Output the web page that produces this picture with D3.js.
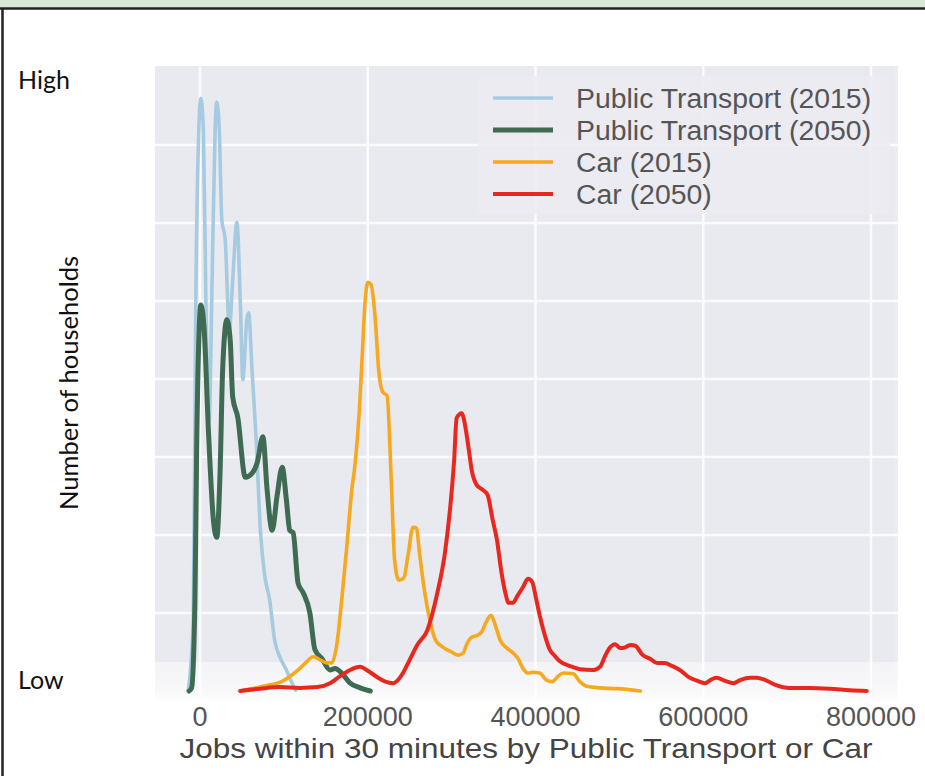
<!DOCTYPE html>
<html><head><meta charset="utf-8">
<script src="https://cdn.jsdelivr.net/npm/d3@7"></script>
<style>body{margin:0;background:#fff}svg{display:block}</style>
</head><body><div id="chart"></div>
<script>
// ---- data: jobs reached in 30 minutes, relative household density ----
const pt2015Jobs = [-14000,-8000,-5000,-1000,1000,4000,7000,11000,14000,18000,20000,23000,26000,30000,35000,39000,44000,48000,51000,56000,58000,62000,67000,72000,77000,83000,89000,95000,103000,108000,114000];
const pt2015Vals = [0.01,0.91,5.01,7.32,7.60,7.19,5.01,3.47,5.01,7.19,7.55,7.19,6.04,5.79,4.63,5.27,6.01,5.01,3.99,4.78,4.85,4.12,3.22,2.06,1.49,1.17,0.65,0.44,0.27,0.14,0.01];

const pt2050Jobs = [-13000,-10000,-6000,-4000,-1000,1000,5000,10000,16000,20000,24000,27000,32000,36000,39000,45000,54000,62000,68000,75000,80000,86000,92000,98000,103000,107000,111000,117000,123000,131000,137000,145000,155000,161000,169000,179000,191000,203000];
const pt2050Vals = [0,0.04,1.17,3.09,4.63,4.95,4.63,3.35,2.19,1.97,2.83,4.12,4.76,4.50,3.77,3.51,2.74,2.79,2.92,3.26,2.58,2.06,2.51,2.87,2.45,2.06,2.03,1.38,1.26,1.00,0.53,0.42,0.27,0.29,0.23,0.10,0.04,0];

const car2015Jobs = [48000,75000,99000,116000,125000,135000,143000,151000,157000,163000,169000,175000,181000,185000,190000,193000,197000,200000,204000,209000,213000,218000,223000,228000,232000,237000,243000,248000,254000,258000,262000,268000,274000,281000,290000,300000,308000,314000,318000,324000,330000,336000,341000,347000,353000,358000,366000,373000,379000,385000,391000,397000,405000,413000,420000,427000,433000,445000,453000,461000,477000,497000,525000];
const car2015Vals = [0,0.06,0.13,0.26,0.35,0.44,0.40,0.36,0.36,0.59,1.17,1.85,2.58,2.92,3.60,4.21,5.01,5.24,5.21,4.76,4.12,3.83,3.79,2.71,1.68,1.42,1.45,1.74,2.10,2.09,1.74,1.26,0.91,0.65,0.56,0.50,0.46,0.49,0.60,0.69,0.71,0.76,0.88,0.97,0.81,0.65,0.55,0.49,0.42,0.29,0.23,0.24,0.23,0.14,0.12,0.19,0.23,0.22,0.12,0.06,0.04,0.03,0];

const car2050Jobs = [48000,72000,95000,119000,140000,155000,167000,179000,191000,200000,211000,221000,230000,236000,242000,250000,259000,271000,283000,292000,298000,303000,306000,312000,316000,320000,324000,330000,337000,343000,349000,354000,359000,364000,368000,373000,379000,385000,391000,396000,401000,405000,411000,417000,423000,429000,441000,453000,469000,477000,483000,489000,495000,501000,507000,513000,519000,527000,537000,545000,554000,563000,572000,584000,593000,602000,610000,616000,626000,636000,644000,656000,664000,674000,686000,703000,727000,751000,775000,795000];
const car2050Vals = [0,0.03,0.05,0.04,0.05,0.10,0.19,0.27,0.31,0.26,0.18,0.12,0.10,0.14,0.23,0.40,0.59,0.78,1.26,1.77,2.32,2.96,3.50,3.56,3.41,3.13,2.83,2.64,2.58,2.51,2.19,1.94,1.55,1.26,1.13,1.13,1.23,1.33,1.44,1.40,1.17,0.97,0.72,0.53,0.45,0.38,0.32,0.28,0.27,0.31,0.45,0.56,0.60,0.55,0.56,0.59,0.58,0.47,0.41,0.36,0.36,0.32,0.27,0.17,0.13,0.10,0.15,0.17,0.13,0.10,0.14,0.17,0.17,0.14,0.08,0.04,0.04,0.03,0.01,0];

const seriesLabels = ["Public Transport (2015)","Public Transport (2050)","Car (2015)","Car (2050)"];
const seriesColors = ["#a6cbe1","#3e6b52","#f6a91e","#e8281e"];
const seriesWidths = [3.6,5,3.6,4];
const xTicks = [0,200000,400000,600000,800000];
const yGrid = [1,2,3,4,5,6,7];
const xLabel = "Jobs within 30 minutes by Public Transport or Car";
const yLabel = "Number of households";
const yHigh = "High", yLow = "Low";

const seriesJobs = [pt2015Jobs, pt2050Jobs, car2015Jobs, car2050Jobs];
const seriesVals = [pt2015Vals, pt2050Vals, car2015Vals, car2050Vals];

// ---- layout ----
const W = 925, H = 776;
const svg = d3.select("#chart").append("svg").attr("width", W).attr("height", H);
svg.append("rect").attr("width", W).attr("height", H).attr("fill", "#fff");

const x = d3.scaleLinear().domain([0, 800000]).range([200, 871]);
const y = d3.scaleLinear().domain([0, 8]).range([691, 67]);
const plotL = x(-53700), plotR = 898, plotT = 66, plotB = 700;

const defs = svg.append("defs");
const gR = defs.append("linearGradient").attr("id","fadeR").attr("x1","0").attr("x2","1").attr("y1","0").attr("y2","0");
gR.append("stop").attr("offset","0").attr("stop-color","#fff").attr("stop-opacity",0);
gR.append("stop").attr("offset","1").attr("stop-color","#fff").attr("stop-opacity",1);
const gB = defs.append("linearGradient").attr("id","fadeB").attr("x1","0").attr("x2","0").attr("y1","0").attr("y2","1");
gB.append("stop").attr("offset","0").attr("stop-color","#fff").attr("stop-opacity",0.5);
gB.append("stop").attr("offset","0.7").attr("stop-color","#fff").attr("stop-opacity",0.7);
gB.append("stop").attr("offset","1").attr("stop-color","#fff").attr("stop-opacity",1);

// plot background
svg.append("rect").attr("x", plotL).attr("y", plotT).attr("width", plotR - plotL).attr("height", plotB - plotT).attr("fill", "#e9e9f0");

// gridlines
svg.append("g").selectAll("line").data(yGrid).join("line")
  .attr("x1", plotL).attr("x2", plotR).attr("y1", d => y(d)).attr("y2", d => y(d))
  .attr("stroke", "#fbfbfd").attr("stroke-width", 2.5);
svg.append("g").selectAll("line").data(xTicks).join("line")
  .attr("x1", d => x(d)).attr("x2", d => x(d)).attr("y1", plotT).attr("y2", plotB)
  .attr("stroke", "#fbfbfd").attr("stroke-width", 2.5);

// bottom fade band
svg.append("rect").attr("x", plotL).attr("y", 662).attr("width", plotR - plotL).attr("height", 42).attr("fill", "url(#fadeB)");

// lines
const line = d3.line().x(d => x(d[0])).y(d => y(d[1])).curve(d3.curveMonotoneX);
seriesJobs.forEach((jobs, i) => {
  const pts = jobs.map((j, k) => [j, seriesVals[i][k]]);
  svg.append("path").datum(pts).attr("d", line)
    .attr("fill", "none").attr("stroke", seriesColors[i]).attr("stroke-width", seriesWidths[i])
    .attr("stroke-linejoin", "round").attr("stroke-linecap", "round");
});

// right fade
svg.append("rect").attr("x", plotR - 6).attr("y", plotT - 2).attr("width", 30).attr("height", plotB - plotT + 6).attr("fill", "url(#fadeR)");

// legend
const lg = svg.append("g");
lg.append("rect").attr("x", 478).attr("y", 76).attr("width", 412).attr("height", 138).attr("rx", 4)
  .attr("fill", "#ebebf1").attr("opacity", 0.85);
seriesLabels.forEach((lab, i) => {
  const cy = 98 + i * 32;
  lg.append("line").attr("x1", 493).attr("x2", 553).attr("y1", cy).attr("y2", cy)
    .attr("stroke", seriesColors[i]).attr("stroke-width", seriesWidths[i]);
  lg.append("text").attr("x", 576).attr("y", cy).attr("dy", "0.35em")
    .attr("font-family", "Liberation Sans, Arial, sans-serif").attr("font-size", 28.4)
    .attr("fill", "#555").text(lab);
});

// x tick labels
svg.append("g").selectAll("text").data(xTicks).join("text")
  .attr("x", d => x(d)).attr("y", 717).attr("dy", "0.35em").attr("text-anchor", "middle")
  .attr("font-family", "Liberation Sans, Arial, sans-serif").attr("font-size", 27)
  .attr("fill", "#555").text(d => d3.format("d")(d));

// x label
svg.append("text").attr("x", 526).attr("y", 748).attr("dy", "0.35em").attr("text-anchor", "middle")
  .attr("font-family", "Liberation Sans, Arial, sans-serif").attr("font-size", 28)
  .attr("textLength", 693).attr("lengthAdjust", "spacingAndGlyphs")
  .attr("fill", "#444").text(xLabel);

// y annotations
const annFont = "Lato, 'Open Sans', sans-serif";
svg.append("text").attr("x", 18).attr("y", 89).attr("font-family", annFont).attr("font-size", 25).attr("fill", "#111").text(yHigh);
svg.append("text").attr("x", 18).attr("y", 689).attr("font-family", annFont).attr("font-size", 25).attr("fill", "#111").text(yLow);
svg.append("text").attr("transform", "translate(78,383) rotate(-90)").attr("text-anchor", "middle")
  .attr("font-family", annFont).attr("font-size", 25.5).attr("fill", "#111").text(yLabel);

// frame
svg.append("rect").attr("x", 0).attr("y", 0).attr("width", W).attr("height", 8).attr("fill", "#d9e9d3");
svg.append("line").attr("x1", 0).attr("x2", W).attr("y1", 8.5).attr("y2", 8.5).attr("stroke", "#222").attr("stroke-width", 2.5);
svg.append("line").attr("x1", 2.5).attr("x2", 2.5).attr("y1", 8).attr("y2", H).attr("stroke", "#222").attr("stroke-width", 2.5);
</script></body></html>
